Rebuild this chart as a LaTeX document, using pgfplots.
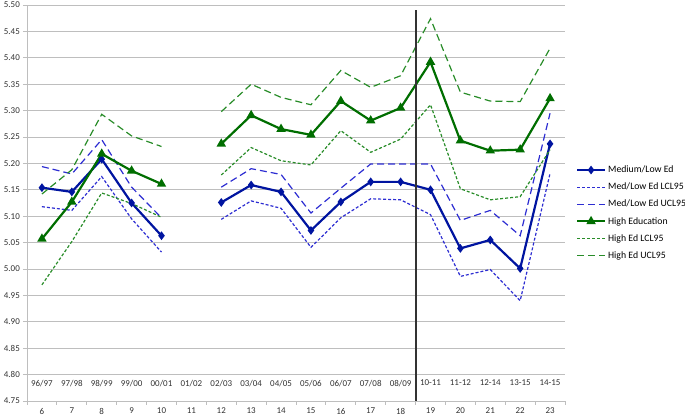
\documentclass[border=0pt]{standalone}
\usepackage{fontspec}
\setmainfont{Carlito}
\usepackage{pgfplots}
\usepackage{pgfplotstable}
\pgfplotsset{compat=1.18}

\definecolor{mlblue}{RGB}{0,20,160}
\definecolor{mldash}{RGB}{45,45,210}
\definecolor{hgreen}{RGB}{0,110,0}
\definecolor{hdash}{RGB}{40,140,40}
\definecolor{gridgray}{RGB}{190,190,190}
\definecolor{txt}{RGB}{50,50,50}

% wave, medium/low ed (mean, lcl, ucl), high ed (mean, lcl, ucl)
\pgfplotstableread{
wave ml    mllcl mlucl he    helcl heucl
6    5.154 5.118 5.194 5.057 4.970 5.142
7    5.146 5.111 5.180 5.127 5.052 5.188
8    5.208 5.175 5.245 5.218 5.144 5.293
9    5.125 5.095 5.155 5.186 5.124 5.252
10   5.063 5.032 5.097 5.161 5.098 5.232
11   nan   nan   nan   nan   nan   nan
12   5.126 5.094 5.155 5.237 5.178 5.298
13   5.159 5.129 5.190 5.291 5.230 5.350
14   5.146 5.115 5.179 5.265 5.205 5.325
15   5.073 5.041 5.106 5.254 5.197 5.311
16   5.127 5.097 5.153 5.318 5.262 5.376
17   5.165 5.133 5.199 5.281 5.221 5.344
18   5.165 5.131 5.199 5.305 5.246 5.366
19   5.150 5.103 5.199 5.392 5.311 5.474
20   5.039 4.986 5.092 5.243 5.152 5.335
21   5.055 4.999 5.111 5.224 5.131 5.318
22   5.001 4.940 5.063 5.226 5.137 5.317
23   5.237 5.181 5.295 5.323 5.226 5.418
}\data

\pgfplotsset{
  legend image code/.code={%
    \draw[mark repeat=2,mark phase=2,#1] plot coordinates {(0bp,0bp)(14bp,0bp)(28bp,0bp)};}
}

\begin{document}
\fontsize{9}{11}\selectfont
\begin{tikzpicture}
\begin{axis}[
  width=538bp, height=396bp, scale only axis,
  xmin=5.5, xmax=23.5, ymin=4.75, ymax=5.50,
  axis x line*=bottom, axis y line*=left,
  axis line style={gridgray, line width=0.8pt, -},
  tick align=outside,
  tick style={gridgray, line width=0.8pt},
  xtick={6,...,23},
  major x tick style={draw=none},
  minor xtick={5.5,6.5,...,23.5},
  minor tick length=4bp,
  major tick length=4bp,
  extra x ticks={6,...,23},
  extra x tick labels={96/97,97/98,98/99,99/00,00/01,01/02,02/03,03/04,04/05,05/06,06/07,07/08,08/09,10-11,11-12,12-14,13-15,14-15},
  extra x tick style={grid=none, major tick length=0pt, tick label style={yshift=24bp}},
  ytick={4.75,4.80,4.85,4.90,4.95,5.00,5.05,5.10,5.15,5.20,5.25,5.30,5.35,5.40,5.45,5.50},
  ymajorgrids,
  grid style={gridgray, line width=0.8pt},
  /pgf/number format/assume math mode=true,
  yticklabel style={/pgf/number format/.cd, fixed, fixed zerofill, precision=2},
  ticklabel style={font=\fontsize{9}{11}\selectfont, text=txt},
  unbounded coords=jump,
  legend style={at={(rel axis cs:1.02,0.599)}, anchor=north west, draw=none, fill=none,
    font=\fontsize{9.8}{11}\selectfont, row sep=5bp, inner sep=0pt},
  legend cell align=left,
]
\addplot[mlblue, line width=2.2bp, mark=diamond*, mark size=2.6bp] table[x=wave,y=ml]{\data};
\addlegendentry{Medium/Low Ed}
\addplot[mldash, line width=1.2bp, dash pattern=on 3bp off 2bp] table[x=wave,y=mllcl]{\data};
\addlegendentry{Med/Low Ed LCL95}
\addplot[mldash, line width=1.2bp, dash pattern=on 7bp off 4bp] table[x=wave,y=mlucl]{\data};
\addlegendentry{Med/Low Ed UCL95}
\addplot[hgreen, line width=2.2bp, mark=triangle*, mark size=3.3bp] table[x=wave,y=he]{\data};
\addlegendentry{High Education}
\addplot[hdash, line width=1.2bp, dash pattern=on 3bp off 2bp] table[x=wave,y=helcl]{\data};
\addlegendentry{High Ed LCL95}
\addplot[hdash, line width=1.2bp, dash pattern=on 7bp off 4bp] table[x=wave,y=heucl]{\data};
\addlegendentry{High Ed UCL95}
\draw[black!80, line width=1.9bp] (axis cs:18.5,4.75) -- (axis cs:18.5,5.49);
\node[anchor=west, text=txt] at (rel axis cs:1,0) [xshift=13bp, yshift=11bp] {YEAR};
\node[anchor=west, text=txt] at (rel axis cs:1,0) [xshift=13bp, yshift=-12bp] {WAVE};
\end{axis}
\pgfresetboundingbox
\path (current axis.south west) ++(-27bp,-17bp) coordinate (bbsw);
\path (current axis.north east) ++(120bp,5bp) coordinate (bbne);
\path[use as bounding box] (bbsw) rectangle (bbne);
\end{tikzpicture}
\end{document}
